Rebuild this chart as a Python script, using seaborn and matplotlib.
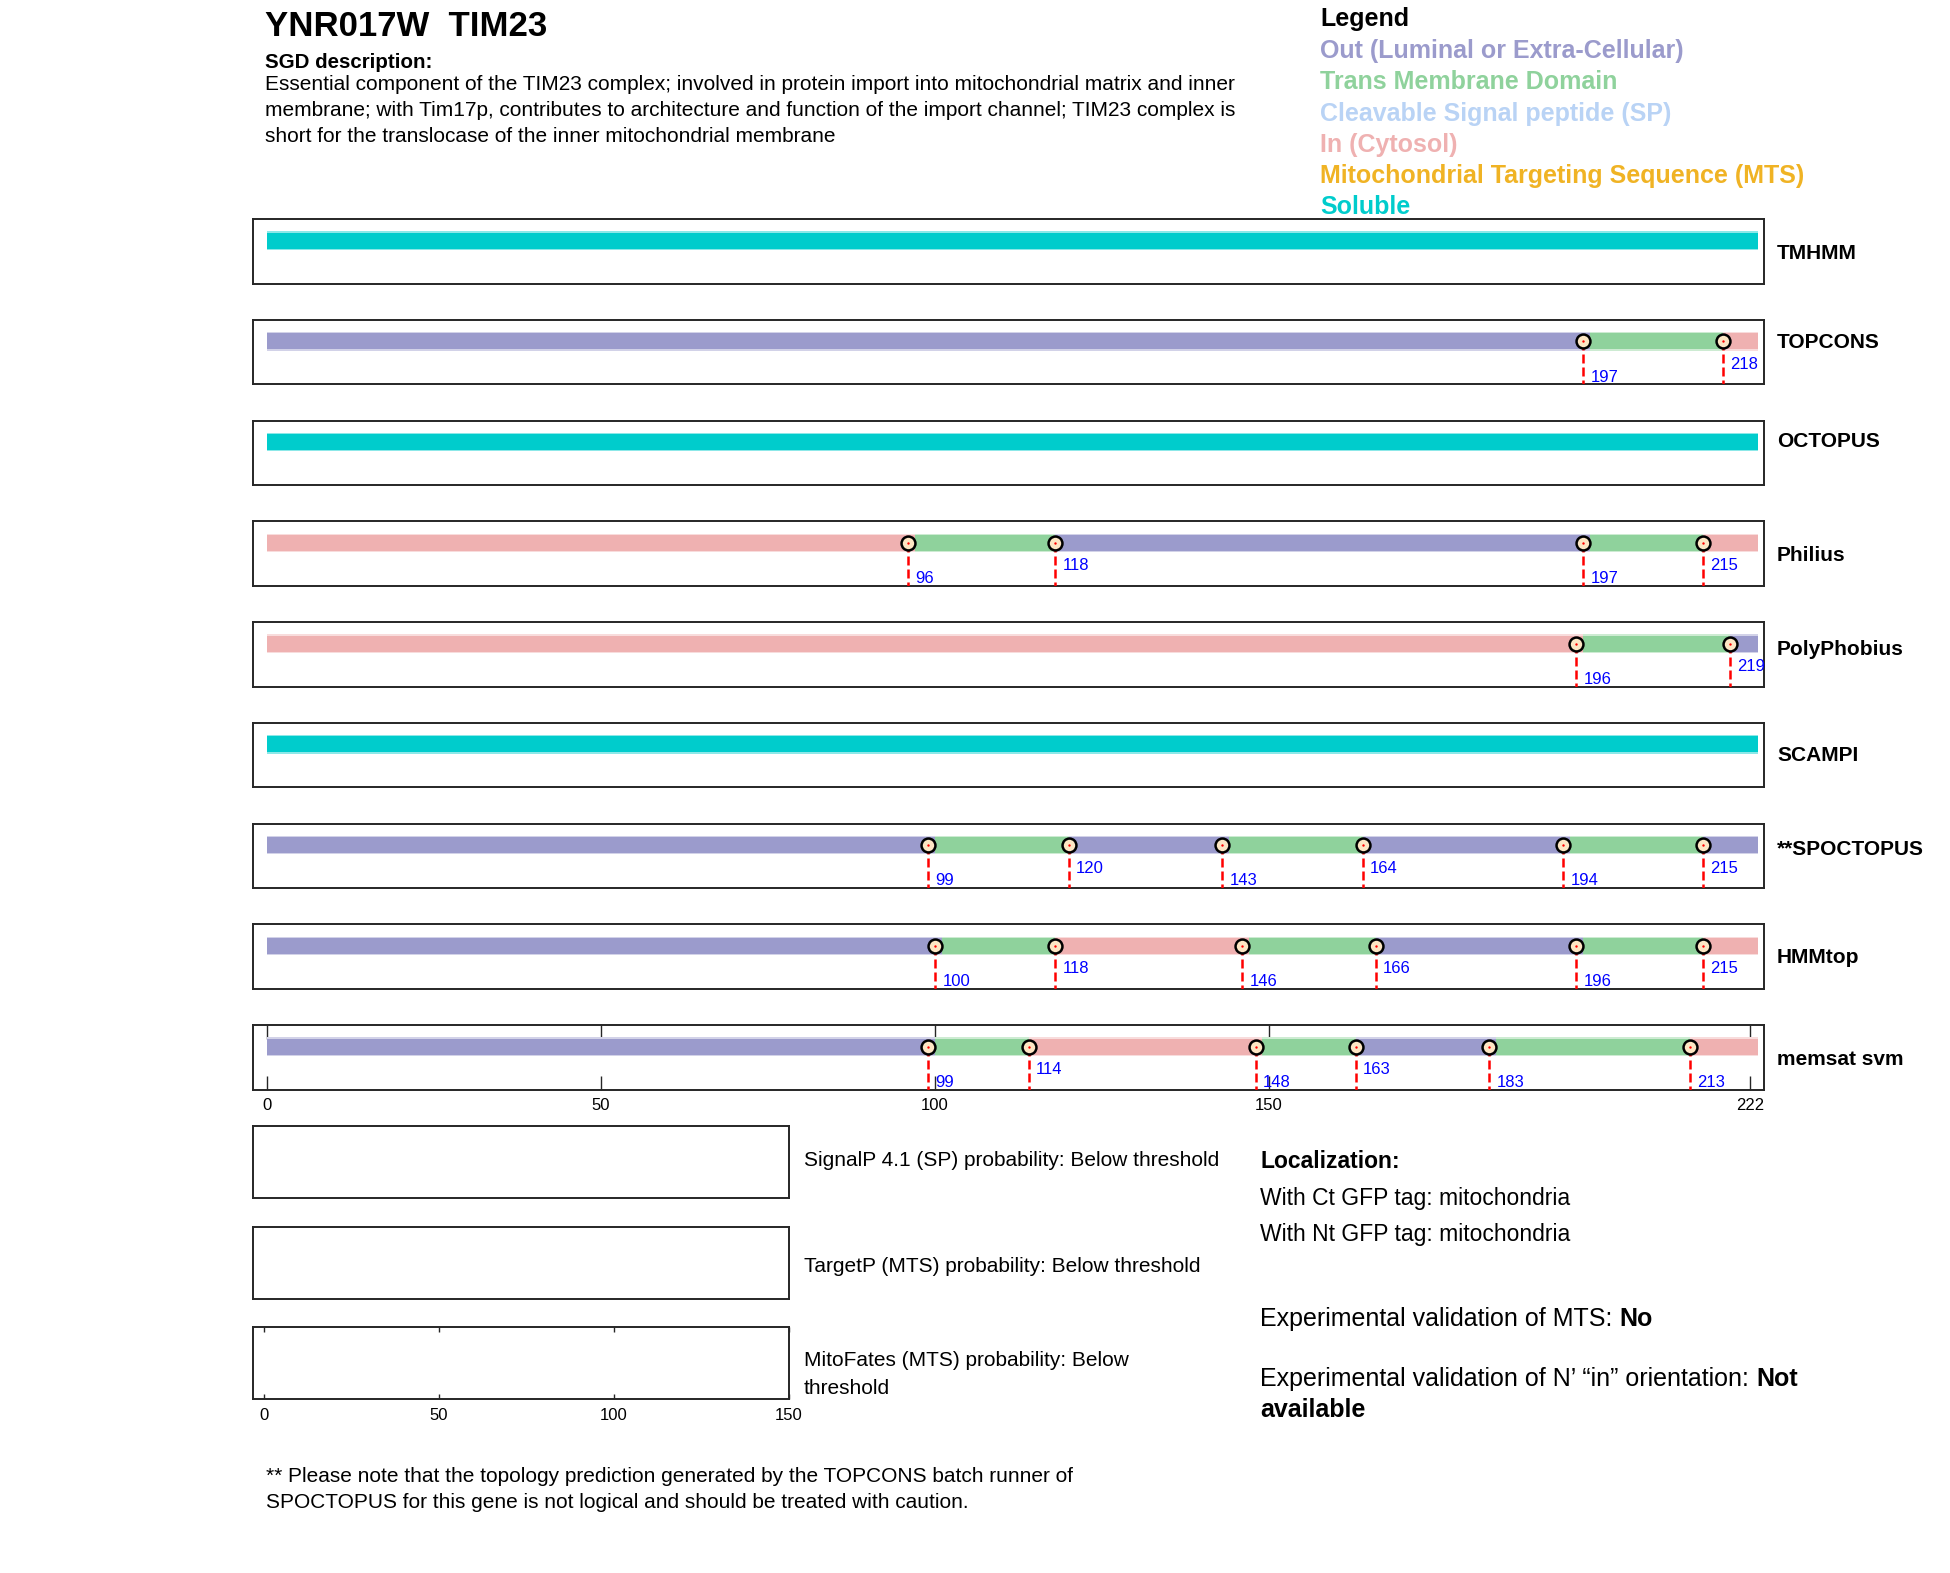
import matplotlib
matplotlib.use("Agg")
import matplotlib.pyplot as plt
import matplotlib.colors as mcolors
import seaborn as sns
import numpy as np

sns.set_theme(style="white")
plt.rcParams['font.family'] = ['Liberation Sans', 'DejaVu Sans']
plt.rcParams['text.color'] = 'black'
plt.rcParams['axes.labelcolor'] = 'black'
plt.rcParams['xtick.color'] = 'black'
plt.rcParams['ytick.color'] = 'black'

# ---------------- data ----------------
gene_id = "YNR017W"
gene_name = "TIM23"
description_lines = [
    "Essential component of the TIM23 complex; involved in protein import into mitochondrial matrix and inner",
    "membrane; with Tim17p, contributes to architecture and function of the import channel; TIM23 complex is",
    "short for the translocase of the inner mitochondrial membrane",
]
protein_length = 222

legend_labels = ["Out (Luminal or Extra-Cellular)", "Trans Membrane Domain",
                 "Cleavable Signal peptide (SP)", "In (Cytosol)",
                 "Mitochondrial Targeting Sequence (MTS)", "Soluble"]
state_keys = ["Out", "TM", "SP", "In", "MTS", "Soluble"]
state_colors = ["#9b9bcc", "#8fd29c", "#b9d3f5", "#efb1b1", "#f0b324", "#00cccc"]

tools = ["TMHMM", "TOPCONS", "OCTOPUS", "Philius", "PolyPhobius",
         "SCAMPI", "**SPOCTOPUS", "HMMtop", "memsat svm"]

tmhmm_bounds = []
tmhmm_states = ["Soluble"]
topcons_bounds = [197, 218]
topcons_states = ["Out", "TM", "In"]
octopus_bounds = []
octopus_states = ["Soluble"]
philius_bounds = [96, 118, 197, 215]
philius_states = ["In", "TM", "Out", "TM", "In"]
polyphobius_bounds = [196, 219]
polyphobius_states = ["In", "TM", "Out"]
scampi_bounds = []
scampi_states = ["Soluble"]
spoctopus_bounds = [99, 120, 143, 164, 194, 215]
spoctopus_states = ["Out", "TM", "Out", "TM", "Out", "TM", "Out"]
hmmtop_bounds = [100, 118, 146, 166, 196, 215]
hmmtop_states = ["Out", "TM", "In", "TM", "Out", "TM", "In"]
memsat_bounds = [99, 114, 148, 163, 183, 213]
memsat_states = ["Out", "TM", "In", "TM", "Out", "TM", "In"]

all_bounds = [tmhmm_bounds, topcons_bounds, octopus_bounds, philius_bounds,
              polyphobius_bounds, scampi_bounds, spoctopus_bounds, hmmtop_bounds, memsat_bounds]
all_states = [tmhmm_states, topcons_states, octopus_states, philius_states,
              polyphobius_states, scampi_states, spoctopus_states, hmmtop_states, memsat_states]

track_ticks = [0, 50, 100, 150, 222]
prob_ticks = [0, 50, 100, 150]
prob_panel_texts = [["SignalP 4.1 (SP) probability: Below threshold"],
                    ["TargetP (MTS) probability: Below threshold"],
                    ["MitoFates (MTS) probability: Below", "threshold"]]

# ---------------- layout ----------------
W, H = 1950, 1573
fig = plt.figure(figsize=(W / 100, H / 100), dpi=100)
fig.patch.set_facecolor("white")


def fx(px):
    return px / W


def fy(py):
    return 1 - py / H


def lighten(c, f=0.5):
    r, g, b = mcolors.to_rgb(c)
    return (r + (1 - r) * f, g + (1 - g) * f, b + (1 - b) * f)


color_of = dict(zip(state_keys, state_colors))

overlay = fig.add_axes([0, 0, 1, 1])
overlay.set_axis_off()
overlay.set_xlim(0, 1)
overlay.set_ylim(0, 1)

# title & description
fig.text(fx(265), fy(27), f"{gene_id}  {gene_name}", fontsize=25, fontweight="bold", va="center", ha="left")
fig.text(fx(265), fy(63), "SGD description:", fontsize=14.8, fontweight="bold", va="center", ha="left")
for i, line in enumerate(description_lines):
    fig.text(fx(265), fy(84 + 26.5 * i), line, fontsize=15, va="center", ha="left")

# legend
fig.text(fx(1320), fy(19), "Legend", fontsize=18, fontweight="bold", va="center", ha="left", color="black")
for i, (lab, col) in enumerate(zip(legend_labels, state_colors)):
    fig.text(fx(1320), fy(51 + 31.3 * i), lab, fontsize=18, fontweight="bold",
             va="center", ha="left", color=col)

# tracks
box_left, box_right = 253, 1764
box_h = 64.5
label_fracs = [0.53, 0.36, 0.33, 0.53, 0.42, 0.51, 0.41, 0.51, 0.54]
bar_y = 0.665
bar_h_in = 0.25
bar_h_out = 0.29
bar_end = protein_length + 1.2

for i, (tool, bnds, sts) in enumerate(zip(tools, all_bounds, all_states)):
    top = 219 + 100.75 * i
    ax = fig.add_axes([fx(box_left), fy(top + box_h), fx(box_right - box_left), box_h / H])
    ax.set_xlim(-2.1, 224.1)
    ax.set_ylim(0, 1)
    for sp in ax.spines.values():
        sp.set_visible(True)
        sp.set_color("#262626")
        sp.set_linewidth(1.4)
    ax.set_facecolor("white")

    # segment edges
    edges = [0.0]
    for j, b in enumerate(bnds):
        edges.append(b + (1 if sts[j + 1] == "TM" else 0))
    edges.append(bar_end)
    for j, st in enumerate(sts):
        x0, x1 = edges[j], edges[j + 1]
        ax.barh(bar_y, x1 - x0, left=x0, height=bar_h_out, color=lighten(color_of[st], 0.55),
                linewidth=0, zorder=1)
    for j, st in enumerate(sts):
        x0, x1 = edges[j], edges[j + 1]
        ax.barh(bar_y, x1 - x0, left=x0, height=bar_h_in, color=color_of[st],
                linewidth=0, zorder=2)

    # boundaries
    prev_b, prev_level = None, None
    for b in bnds:
        ax.plot([b, b], [bar_y, 0], color="#ff0000", lw=1.8, ls="--", dashes=(3.6, 1.6), zorder=3)
        if prev_b is not None and prev_level == "low" and b - prev_b < 25:
            level = "high"
        else:
            level = "low"
        ty = 0.31 if level == "high" else 0.11
        ax.text(b + 1.1, ty, str(b), color="blue", fontsize=12, va="center", ha="left", zorder=4)
        prev_b, prev_level = b, level
    if bnds:
        sns.scatterplot(x=bnds, y=[bar_y] * len(bnds), ax=ax, s=100, color="#fde6c4",
                        edgecolor="black", linewidth=1.8, zorder=5, legend=False)
        sns.scatterplot(x=bnds, y=[bar_y] * len(bnds), ax=ax, s=3, color="red",
                        linewidth=0, zorder=6, legend=False)

    ax.set_xlabel("")
    ax.set_ylabel("")
    ax.set_yticks([])
    if i == len(tools) - 1:
        ax.set_xticks(track_ticks)
        ax.set_xticklabels([str(t) for t in track_ticks])
        ax.tick_params(axis="x", direction="in", top=True, bottom=True, length=10, width=1,
                       color="#262626", labelsize=12, pad=6, labelcolor="black")
    else:
        ax.set_xticks([])

    fig.text(fx(1777), fy(top + label_fracs[i] * box_h), tool, fontsize=15, fontweight="bold",
             va="center", ha="left")

# probability panels
p_left, p_right = 253, 789
p_tops = [1126, 1227, 1327]
p_h = 71.5
text_ys = [[1161], [1266], [1361, 1388]]
for k, top in enumerate(p_tops):
    ax = fig.add_axes([fx(p_left), fy(top + p_h), fx(p_right - p_left), p_h / H])
    ax.set_xlim(-3.1, 150)
    ax.set_ylim(0, 1)
    for sp in ax.spines.values():
        sp.set_visible(True)
        sp.set_color("#262626")
        sp.set_linewidth(1.4)
    ax.set_yticks([])
    if k == len(p_tops) - 1:
        ax.set_xticks(prob_ticks)
        ax.set_xticklabels([str(t) for t in prob_ticks])
        ax.tick_params(axis="x", direction="in", top=True, bottom=True, length=3.5, width=1,
                       color="#262626", labelsize=12, pad=6.5, labelcolor="black")
    else:
        ax.set_xticks([])
    for line, ty in zip(prob_panel_texts[k], text_ys[k]):
        fig.text(fx(804), fy(ty), line, fontsize=15, va="center", ha="left")

# localization block
fig.text(fx(1260), fy(1161), "Localization:", fontsize=16.5, fontweight="bold", va="center", ha="left")
fig.text(fx(1260), fy(1198), "With Ct GFP tag: mitochondria", fontsize=16.5, va="center", ha="left")
fig.text(fx(1260), fy(1235), "With Nt GFP tag: mitochondria", fontsize=16.5, va="center", ha="left")

t1 = overlay.text(fx(1260), fy(1319), "Experimental validation of MTS: ", fontsize=18,
                  va="center", ha="left")
overlay.annotate("No", xy=(1, 0), xycoords=t1, va="bottom", ha="left", fontsize=18, fontweight="bold")
t2 = overlay.text(fx(1260), fy(1379), "Experimental validation of N\u2019 \u201cin\u201d orientation: ",
                  fontsize=18, va="center", ha="left")
overlay.annotate("Not", xy=(1, 0), xycoords=t2, va="bottom", ha="left", fontsize=18, fontweight="bold")
fig.text(fx(1260), fy(1410), "available", fontsize=18, fontweight="bold", va="center", ha="left")

# footnote
fig.text(fx(266), fy(1476), "** Please note that the topology prediction generated by the TOPCONS batch runner of",
         fontsize=15, va="center", ha="left")
fig.text(fx(266), fy(1503), "SPOCTOPUS for this gene is not logical and should be treated with caution.",
         fontsize=15, va="center", ha="left")

fig.savefig("out.png", dpi=100, facecolor="white")
